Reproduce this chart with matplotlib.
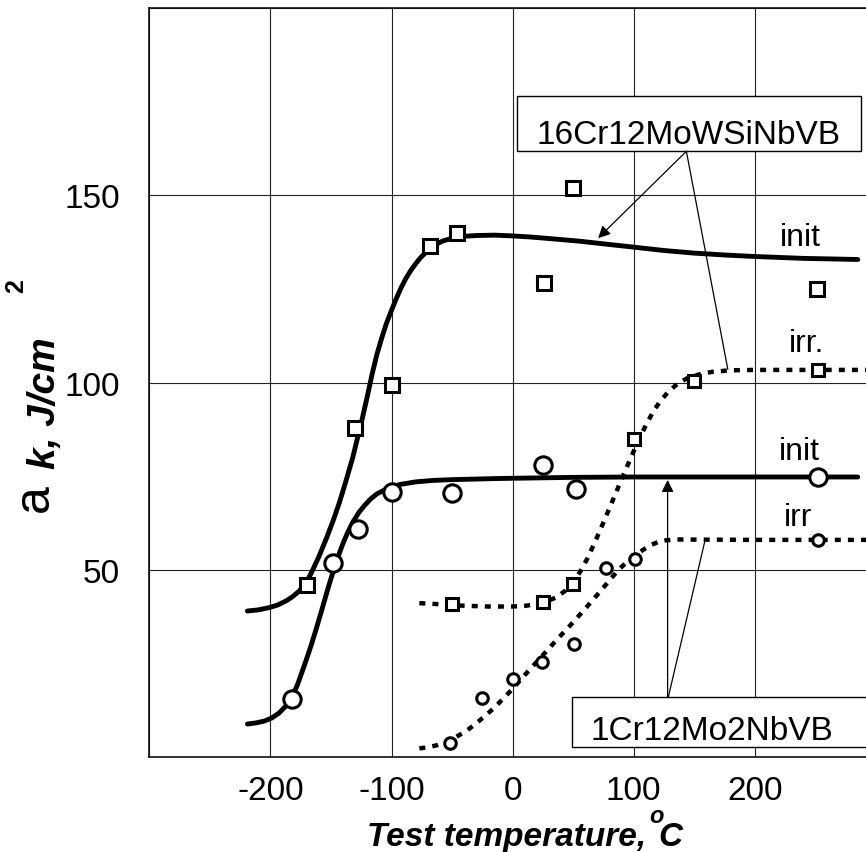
import matplotlib
matplotlib.use("Agg")
import matplotlib.pyplot as plt
from matplotlib.patches import Rectangle

plt.rcParams['font.family'] = ['Liberation Sans', 'DejaVu Sans']

# 16Cr12MoWSiNbVB, initial state (squares + solid curve)
sq_init_x = [-170, -130, -100, -68, -46, 26, 50, 251]
sq_init_y = [46, 88, 99.5, 136.5, 140, 126.5, 152, 125]
sq_init_cx = [-219, -210, -201, -194, -187, -181, -176, -170, -165, -160, -154, -148, -143, -138, -132, -128,
              -124, -120, -116, -112, -108, -104, -100, -96, -92, -88, -84, -80, -76, -70, -64, -58, -50,
              -40, -30, -15, 0, 15, 30, 55, 80, 100, 125, 150, 175, 200, 240, 285]
sq_init_cy = [39.0, 39.3, 39.9, 40.6, 41.7, 43.0, 44.4, 46.8, 50.0, 53.5, 58.2, 63.3, 68.0, 73.3, 80.0, 85.3,
              90.6, 96.3, 102.3, 107.6, 112.0, 116.0, 119.3, 122.5, 125.4, 127.9, 130.0, 131.8, 133.4, 135.3,
              136.8, 137.8, 138.6, 139.1, 139.3, 139.4, 139.2, 138.9, 138.5, 137.8, 136.9, 136.2, 135.3,
              134.6, 134.1, 133.7, 133.2, 132.9]

# 16Cr12MoWSiNbVB, irradiated (squares + dotted curve)
sq_irr_x = [-50, 25, 50, 100, 150, 252]
sq_irr_y = [41, 41.5, 46.3, 85, 100.5, 103.5]
sq_irr_cx = [-77, -60, -40, -20, 0, 11, 20, 28, 36, 43, 50, 56, 62, 68, 74, 80, 86, 92, 98, 104, 110, 116,
             122, 129, 137, 145, 155, 165, 180, 200, 292]
sq_irr_cy = [41.1, 40.8, 40.4, 40.2, 40.2, 40.4, 40.9, 41.6, 42.6, 44.3, 46.7, 49.6, 53.2, 57.4, 61.9, 66.5,
             71.1, 75.7, 80.2, 84.6, 88.6, 92.2, 95.1, 97.7, 99.9, 101.3, 102.3, 102.9, 103.3, 103.4, 103.4]

# 1Cr12Mo2NbVB, initial state (circles + solid curve)
ci_init_x = [-182, -148, -128, -100, -50, 25, 52, 252]
ci_init_y = [15.5, 51.7, 61, 70.8, 70.4, 78, 71.5, 74.7]
ci_init_cx = [-219, -212, -205, -199, -193, -187, -182, -178, -174, -170, -166, -162, -158, -154, -151, -147,
              -143, -140, -136, -132, -127, -122, -117, -112, -106, -100, -93, -80, -65, -49, -11, 50, 100, 285]
ci_init_cy = [8.8, 9.1, 9.6, 10.4, 11.7, 13.7, 16.3, 19.0, 22.6, 26.3, 30.2, 34.4, 38.8, 43.3, 46.6, 50.7,
              54.5, 57.1, 60.1, 62.7, 65.3, 67.3, 69.0, 70.3, 71.3, 72.1, 72.8, 73.5, 73.9, 74.1, 74.4, 74.7,
              74.8, 74.8]

# 1Cr12Mo2NbVB, irradiated (circles + dotted curve)
ci_irr_x = [-52, -25, 0, 24, 51, 77, 101, 252]
ci_irr_y = [3.7, 15.7, 20.8, 25.3, 30.3, 50.4, 52.8, 58]
ci_irr_cx = [-77, -70, -63, -55, -47, -38, -30, -23, -16, -8, 0, 12, 25, 37, 50, 61, 72, 81, 89, 96, 102,
             108, 114, 120, 127, 136, 200, 292]
ci_irr_cy = [2.3, 2.6, 3.1, 4.1, 5.3, 7.0, 9.0, 10.9, 12.9, 15.5, 18.2, 22.6, 27.2, 31.5, 36.0, 40.0, 44.1,
             47.6, 50.5, 52.5, 54.0, 55.4, 56.6, 57.4, 57.9, 58.1, 58, 58]

x_ticks = [-300, -200, -100, 0, 100, 200, 300]
x_labels = ['', '-200', '-100', '0', '100', '200', '']
y_ticks = [0, 50, 100, 150, 200]
y_labels = ['', '50', '100', '150', '']

W, H = 866, 853
fig = plt.figure(figsize=(W / 100, H / 100), dpi=100)
# axes runs a little past the right edge of the picture, like the original
ax = fig.add_axes([149.3 / W, 1 - 758 / H, 726.6 / W, 748.7 / H])
ax.set_xlim(-300, 300)
ax.set_ylim(0, 200)

ax.set_xticks(x_ticks)
ax.set_xticklabels(x_labels)
ax.set_yticks(y_ticks)
ax.set_yticklabels(y_labels)
ax.tick_params(axis='x', length=0, pad=13, labelsize=24)
ax.tick_params(axis='y', length=0, pad=21, labelsize=24)
ax.grid(True, color='#222222', lw=0.8)
ax.set_axisbelow(True)
for s in ax.spines.values():
    s.set_linewidth(1.2)
    s.set_color('#111111')

dots = (0, (1.35, 1.6))
ax.plot(sq_init_cx, sq_init_cy, color='black', lw=3.5, solid_capstyle='round', solid_joinstyle='round', zorder=3)
ax.plot(ci_init_cx, ci_init_cy, color='black', lw=3.5, solid_capstyle='round', solid_joinstyle='round', zorder=3)
ax.plot(sq_irr_cx, sq_irr_cy, color='black', lw=3.2, ls=dots, dash_capstyle='butt', zorder=3)
ax.plot(ci_irr_cx, ci_irr_cy, color='black', lw=3.2, ls=dots, dash_capstyle='butt', zorder=3)

ax.plot(sq_init_x, sq_init_y, 's', ms=10.5, mfc='white', mec='black', mew=2.2, zorder=4)
ax.plot(sq_irr_x, sq_irr_y, 's', ms=9.2, mfc='white', mec='black', mew=2.2, zorder=4)
ax.plot(ci_init_x, ci_init_y, 'o', ms=12.5, mfc='white', mec='black', mew=2.2, zorder=4)
ax.plot(ci_irr_x, ci_irr_y, 'o', ms=8.3, mfc='white', mec='black', mew=2.2, zorder=4)

# curve labels
ax.text(237.6, 139, 'init', fontsize=23, ha='center', va='center')
ax.text(243, 110.5, 'irr.', fontsize=23, ha='center', va='center')
ax.text(236.8, 81.7, 'init', fontsize=23, ha='center', va='center')
ax.text(236, 64, 'irr', fontsize=23, ha='center', va='center')

# material boxes
ax.add_patch(Rectangle((3.6, 161.8), 284.2, 14.9, facecolor='white', edgecolor='black', lw=1.0, zorder=5))
ax.text(145.5, 164.1, '16Cr12MoWSiNbVB', fontsize=24, ha='center', va='baseline', zorder=6)
ax.add_patch(Rectangle((49.4, 2.6), 260, 13.3, facecolor='white', edgecolor='black', lw=1.0, zorder=5))
ax.text(64.5, 4.8, '1Cr12Mo2NbVB', fontsize=24, ha='left', va='baseline', zorder=6)

# leader lines
arr = dict(arrowstyle='-|>', color='black', lw=0.9, mutation_scale=18, shrinkA=0, shrinkB=0)
ax.annotate('', xy=(70.6, 138.6), xytext=(143.5, 161.8), arrowprops=arr, zorder=5)
ax.plot([143.5, 177.7], [161.8, 103.6], color='black', lw=0.9, zorder=5)
ax.annotate('', xy=(128, 74.0), xytext=(128, 15.9), arrowprops=arr, zorder=5)
ax.plot([128.5, 158.5], [15.9, 57.3], color='black', lw=0.9, zorder=5)

# axis titles, built from pieces (pixel positions)
def fx(px):
    return px / W

def fy(py):
    return 1 - py / H

fig.text(fx(367), fy(846), 'Test temperature,', fontsize=24, fontweight='bold', style='italic',
         ha='left', va='baseline')
fig.text(fx(649), fy(823), 'o', fontsize=17, fontweight='bold', style='italic', ha='left', va='baseline')
fig.text(fx(658), fy(846), 'C', fontsize=24, fontweight='bold', style='italic', ha='left', va='baseline')

fig.text(fx(48), fy(512), 'a', fontsize=36, rotation=90, rotation_mode='anchor', ha='left', va='baseline')
fig.text(fx(55), fy(469), 'k, J/cm', fontsize=28, fontweight='bold', style='italic', rotation=90,
         rotation_mode='anchor', ha='left', va='baseline')
fig.text(fx(23), fy(293), '2', fontsize=18, fontweight='bold', rotation=90, rotation_mode='anchor',
         ha='left', va='baseline')

fig.savefig('out.png', dpi=100)
